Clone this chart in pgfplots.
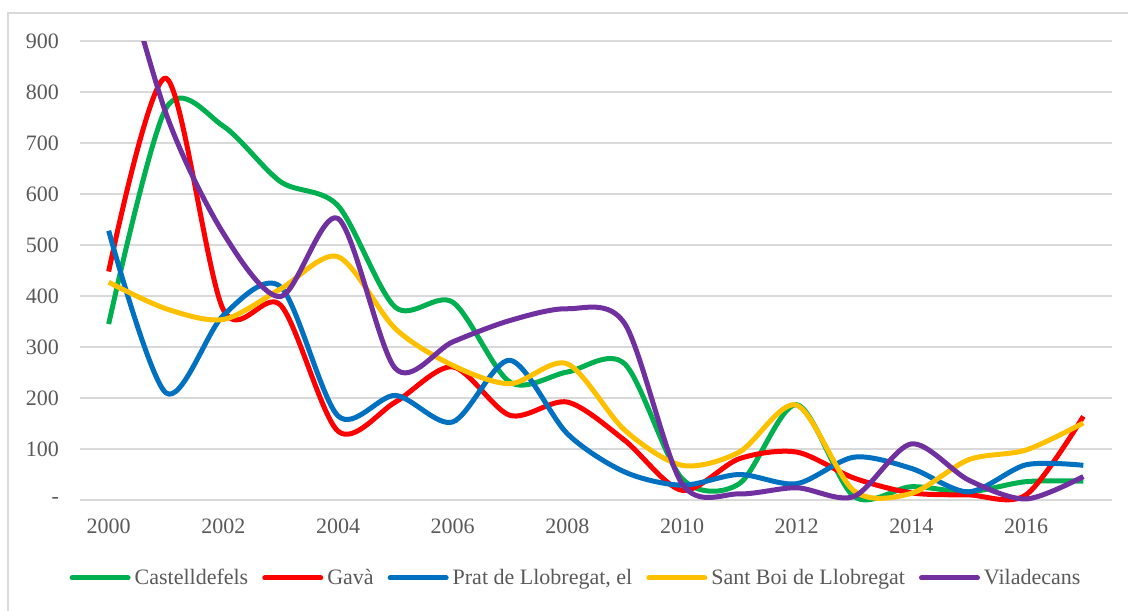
\documentclass[border=0pt]{standalone}
\usepackage{pgfplots}
\usepackage{pgfplotstable}
\pgfplotsset{compat=1.18}
\usepackage{fontspec}
\setmainfont{Liberation Serif}
\definecolor{cgreen}{HTML}{00B050}
\definecolor{cred}{HTML}{FF0000}
\definecolor{cblue}{HTML}{0070C0}
\definecolor{cyellow}{HTML}{FFC000}
\definecolor{cpurple}{HTML}{7030A0}
\definecolor{gridgray}{HTML}{D9D9D9}
\definecolor{textgray}{HTML}{595959}
\definecolor{bordergray}{HTML}{D9D9D9}
\pgfplotstableread{
year C G P S V
2000 345 448 528 427 1150
2001 768 827 210 375 758
2002 733 373 362 354 523
2003 624 382 418 414 399
2004 577 135 165 477 552
2005 378 192 205 336 258
2006 388 261 153 264 310
2007 231 166 274 228 352
2008 251 192 130 267 375
2009 267 117 55 137 346
2010 42 19 29 68 32
2011 32 81 50 94 12
2012 187 94 32 186 24
2013 7 43 84 18 7
2014 26 14 62 13 110
2015 16 10 16 79 39
2016 36 10 69 98 2
2017 37 164 68 151 46
}\datatable
\begin{document}
\begin{tikzpicture}
\path[use as bounding box] (-40pt,-49.9pt) rectangle (524pt,255.1pt);
\draw[bordergray, line width=0.75pt] (-36pt,-55pt) -- (-36pt,248.6pt) -- (530pt,248.6pt);
\begin{axis}[
  at={(0,0)}, anchor=south west,
  scale only axis, width=516pt, height=234.6pt,
  xmin=1999.5, xmax=2017.5, ymin=-20, ymax=900,
  axis line style={draw=none}, tick style={draw=none},
  ymajorgrids, grid style={color=gridgray, line width=0.65pt},
  xtick={2000,2002,2004,2006,2008,2010,2012,2014,2016},
  xticklabels={2000,2002,2004,2006,2008,2010,2012,2014,2016},
  ytick={0,100,200,300,400,500,600,700,800,900},
  yticklabels={-,100,200,300,400,500,600,700,800,900},
  tick label style={font=\fontsize{11}{13}\selectfont, text=textgray},
  yticklabel style={xshift=-7pt},
  xticklabel style={yshift=-1pt},
  legend columns=5,
  legend style={draw=none, fill=none, at={(0.4816,-0.1445)}, anchor=center,
    font=\fontsize{11}{13}\selectfont, text=textgray,
    /tikz/every even column/.append style={column sep=5pt},
    inner sep=0pt},
  legend image code/.code={\draw[line width=2.5pt, line cap=round] (0pt,0pt) -- (28pt,0pt);},
  every axis plot/.append style={line width=2.5pt, smooth, no markers, line join=round},
]
\addplot[cgreen] table[x=year, y=C] {\datatable};
\addlegendentry{Castelldefels}
\addplot[cred] table[x=year, y=G] {\datatable};
\addlegendentry{Gavà}
\addplot[cblue] table[x=year, y=P] {\datatable};
\addlegendentry{Prat de Llobregat, el}
\addplot[cyellow] table[x=year, y=S] {\datatable};
\addlegendentry{Sant Boi de Llobregat}
\addplot[cpurple] table[x=year, y=V] {\datatable};
\addlegendentry{Viladecans}
\end{axis}
\end{tikzpicture}
\end{document}
